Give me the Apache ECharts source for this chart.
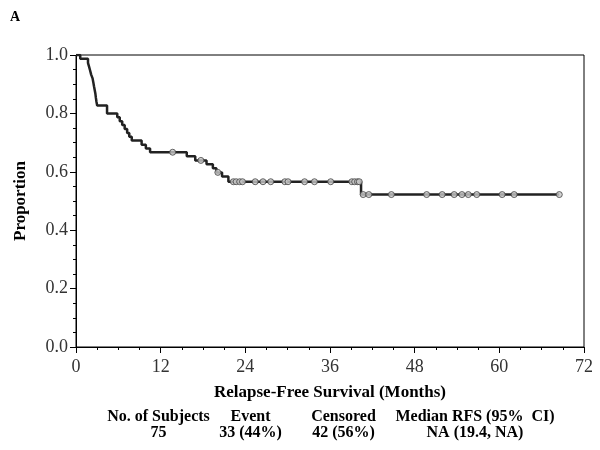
<!DOCTYPE html>
<html>
<head>
<meta charset="utf-8">
<script src="https://cdn.jsdelivr.net/npm/echarts@6/dist/echarts.min.js"></script>
<style>html,body{margin:0;padding:0;background:#fff;}#c{width:600px;height:450px;}</style>
</head>
<body>
<div id="c"></div>
<script>
// Kaplan-Meier step data
const eventTimes = [0, 0.6, 1.7, 1.85, 2.0, 2.15, 2.35, 2.45, 2.55, 2.65, 2.75, 2.82, 2.9, 3.0,
  4.4, 5.85, 6.2, 6.55, 6.9, 7.25, 7.55, 7.9, 9.3, 9.9, 10.5,
  15.7, 16.9, 18.5, 19.4, 19.9, 20.7, 21.6, 40.4];
const survival = [1.0, 0.987, 0.973, 0.960, 0.947, 0.933, 0.920, 0.907, 0.893, 0.880, 0.867, 0.853, 0.840, 0.827,
  0.800, 0.787, 0.773, 0.760, 0.747, 0.733, 0.720, 0.707, 0.693, 0.680, 0.667,
  0.653, 0.639, 0.626, 0.612, 0.598, 0.584, 0.566, 0.522];
const lastTime = 68.5;
const censorTimes = [13.7, 17.7, 20.1,
  22.3, 22.7, 23.2, 23.6, 25.4, 26.5, 27.6, 29.6, 30.05, 32.4, 33.8, 36.1, 39.1, 39.5, 39.9, 40.15,
  40.7, 41.5, 44.7, 49.7, 51.9, 53.6, 54.7, 55.6, 56.8, 60.4, 62.1, 68.5];
const xTicks = [0, 12, 24, 36, 48, 60, 72];
const yTicks = [0, 0.2, 0.4, 0.6, 0.8, 1.0];
const footerHeaders = ['No. of Subjects', 'Event', 'Censored', 'Median RFS (95%  CI)'];
const footerValues = ['75', '33 (44%)', '42 (56%)', 'NA (19.4, NA)'];

function survAt(t) {
  let s = survival[0];
  for (let i = 0; i < eventTimes.length; i++) { if (eventTimes[i] <= t) s = survival[i]; }
  return s;
}
const lineData = [];
for (let i = 0; i < eventTimes.length; i++) {
  if (i > 0) lineData.push([eventTimes[i], survival[i - 1]]);
  lineData.push([eventTimes[i], survival[i]]);
}
lineData.push([lastTime, survival[survival.length - 1]]);
const censorData = censorTimes.map(t => [t, survAt(t)]);

const serif = 'Liberation Serif';
const chart = echarts.init(document.getElementById('c'), null, {renderer: 'canvas'});
const colX = [158.5, 250.5, 343.5, 475];
const graphics = [{type: 'text', left: 10, top: 10, style: {text: 'A', font: 'bold 14px "Liberation Serif"', fill: '#000'}}];
footerHeaders.forEach((h, i) => {
  graphics.push({type: 'text', x: colX[i], y: 409, style: {text: h, font: 'bold 16px "Liberation Serif"', fill: '#000', textAlign: 'center'}});
  graphics.push({type: 'text', x: colX[i], y: 425, style: {text: footerValues[i], font: 'bold 16px "Liberation Serif"', fill: '#000', textAlign: 'center'}});
});
chart.setOption({
  animation: false,
  backgroundColor: '#fff',
  grid: {left: 76, right: 16, top: 55, bottom: 103, show: true, borderColor: '#000', borderWidth: 1,
    containLabel: false, outerBoundsMode: 'none'},
  xAxis: {
    type: 'value', min: 0, max: 72, interval: 12,
    name: 'Relapse-Free Survival (Months)', nameLocation: 'middle', nameGap: 37,
    nameTextStyle: {fontFamily: serif, fontWeight: 'bold', fontSize: 17, color: '#000'},
    axisLine: {show: true, lineStyle: {color: '#000', width: 1}},
    axisTick: {show: true, length: 6, lineStyle: {color: '#000'}},
    minorTick: {show: true, splitNumber: 4, length: 3, lineStyle: {color: '#000'}},
    splitLine: {show: false},
    axisLabel: {fontFamily: serif, fontSize: 18, color: '#333', margin: 11,
      customValues: xTicks, formatter: v => String(v)}
  },
  yAxis: {
    type: 'value', min: 0, max: 1, interval: 0.2,
    name: 'Proportion', nameLocation: 'middle', nameGap: 47,
    nameTextStyle: {fontFamily: serif, fontWeight: 'bold', fontSize: 17, color: '#000'},
    axisLine: {show: true, lineStyle: {color: '#000', width: 1}},
    axisTick: {show: true, length: 6, lineStyle: {color: '#000'}},
    minorTick: {show: true, splitNumber: 4, length: 3, lineStyle: {color: '#000'}},
    splitLine: {show: false},
    axisLabel: {fontFamily: serif, fontSize: 18, color: '#333', margin: 8,
      customValues: yTicks, formatter: v => v.toFixed(1)}
  },
  series: [
    {type: 'line', data: lineData, symbol: 'none', lineStyle: {color: '#222', width: 2.5}, z: 2},
    {type: 'scatter', data: censorData, symbol: 'circle', symbolSize: 6,
      itemStyle: {color: '#c8c8c8', borderColor: '#444', borderWidth: 1}, z: 3}
  ],
  graphic: graphics
});
</script>
</body>
</html>
